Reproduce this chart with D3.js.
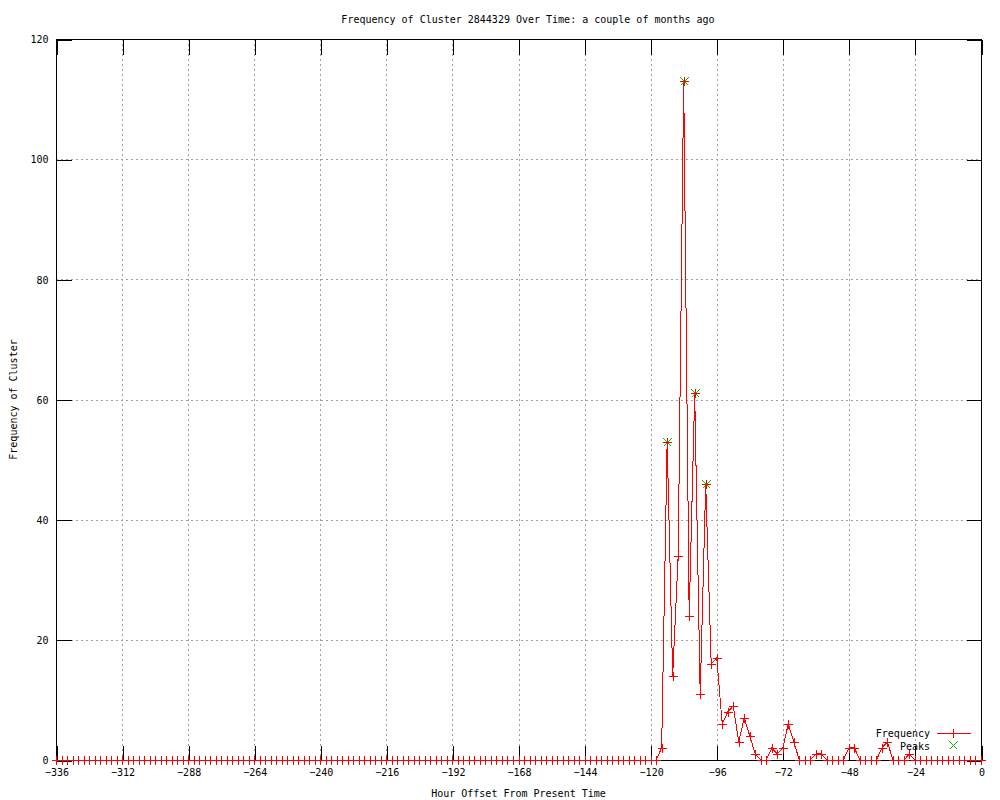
<!DOCTYPE html>
<html>
<head>
<meta charset="utf-8">
<script src="https://cdn.jsdelivr.net/npm/d3@7"></script>
<style>
  html, body { margin: 0; padding: 0; background: #fff; }
  svg { display: block; }
  text { font-family: "DejaVu Sans Mono", "Liberation Mono", monospace; font-size: 10px; fill: #000; }
</style>
</head>
<body>
<svg id="chart" width="1000" height="800"></svg>
<script>
// ---- data ----
const titleText = "Frequency of Cluster 2844329 Over Time: a couple of months ago";
const xLabel = "Hour Offset From Present Time";
const yLabel = "Frequency of Cluster";
const xTicks = [-336, -312, -288, -264, -240, -216, -192, -168, -144, -120, -96, -72, -48, -24, 0];
const yTicks = [0, 20, 40, 60, 80, 100, 120];
// hour offsets, every 2 hours from -336 to 0
const hours = d3.range(-336, 1, 2);
// frequency at each hour offset (169 values)
const frequency = [
  0,0,0,0,0,0,0,0,0,0,
  0,0,0,0,0,0,0,0,0,0,
  0,0,0,0,0,0,0,0,0,0,
  0,0,0,0,0,0,0,0,0,0,
  0,0,0,0,0,0,0,0,0,0,
  0,0,0,0,0,0,0,0,0,0,
  0,0,0,0,0,0,0,0,0,0,
  0,0,0,0,0,0,0,0,0,0,
  0,0,0,0,0,0,0,0,0,0,
  0,0,0,0,0,0,0,0,0,0,
  0,0,0,0,0,0,0,0,0,0,          // -336 .. -118
  2,53,14,34,113,24,61,11,46,16, // -116 .. -98
  17,6,8,9,3,7,4,1,0,0,         // -96 .. -78
  2,1,2,6,3,0,0,0,1,1,          // -76 .. -58
  0,0,0,0,2,2,0,0,0,0,          // -56 .. -38
  2,3,0,0,0,1,0,0,0,0,          // -36 .. -18
  0,0,0,0,0,0,0,0,0             // -16 .. 0
];
const peakHours = [-114, -108, -104, -100];
const peakValues = [53, 113, 61, 46];

// ---- layout ----
const svg = d3.select("#chart");
const L = 56, R = 981, T = 39, B = 760;
const x = d3.scaleLinear().domain([-336, 0]).range([L, R]);
const y = d3.scaleLinear().domain([0, 120]).range([B, T]);
const px = v => Math.round(v) + 0.5;
const tickLen = 15;

svg.append("rect").attr("width", 1000).attr("height", 800).attr("fill", "#fff");

// grid
const grid = svg.append("g").attr("stroke", "#a0a0a0").attr("stroke-dasharray", "2,3")
  .attr("shape-rendering", "crispEdges").attr("stroke-width", 1);
xTicks.slice(1, -1).forEach(t => {
  grid.append("line").attr("x1", px(x(t))).attr("x2", px(x(t))).attr("y1", T).attr("y2", B);
});
yTicks.slice(1, -1).forEach(t => {
  grid.append("line").attr("x1", L).attr("x2", R).attr("y1", px(y(t))).attr("y2", px(y(t)));
});

// axes (D3 axes, styled like gnuplot inward ticks)
const xAxisB = d3.axisBottom(x).tickValues(xTicks).tickSize(-tickLen).tickPadding(8).tickFormat(d3.format("d"));
const xAxisT = d3.axisTop(x).tickValues(xTicks).tickSize(-tickLen).tickFormat("");
const yAxisL = d3.axisLeft(y).tickValues(yTicks).tickSize(-tickLen).tickPadding(8).tickFormat(d3.format("d"));
const yAxisR = d3.axisRight(y).tickValues(yTicks).tickSize(-tickLen).tickFormat("");

function styleAxis(g) {
  g.select(".domain").remove();
  g.selectAll("line").attr("stroke", "#000").attr("shape-rendering", "crispEdges");
  g.selectAll("text").attr("font-family", "DejaVu Sans Mono, monospace").attr("font-size", 10).attr("fill", "#000");
}
svg.append("g").attr("transform", `translate(0.5,${B + 0.5})`).call(xAxisB).call(styleAxis);
svg.append("g").attr("transform", `translate(0.5,${T + 0.5})`).call(xAxisT).call(styleAxis);
svg.append("g").attr("transform", `translate(${L + 0.5},0.5)`).call(yAxisL).call(styleAxis);
svg.append("g").attr("transform", `translate(${R + 0.5},0.5)`).call(yAxisR).call(styleAxis);

// border
svg.append("rect").attr("x", L + 0.5).attr("y", T + 0.5).attr("width", R - L).attr("height", B - T)
  .attr("fill", "none").attr("stroke", "#000").attr("shape-rendering", "crispEdges");

// frequency line
const pts = hours.map((h, i) => [h, frequency[i]]);
const line = d3.line().x(d => x(d[0])).y(d => y(d[1]));
svg.append("path").datum(pts).attr("d", line).attr("fill", "none")
  .attr("stroke", "#ff0000").attr("stroke-width", 1).attr("shape-rendering", "crispEdges");

const ms = 4;
function plus(g, cx, cy, color) {
  cx = Math.round(cx); cy = Math.round(cy);
  g.append("rect").attr("x", cx - ms).attr("y", cy).attr("width", 2 * ms + 1).attr("height", 1).attr("fill", color);
  g.append("rect").attr("x", cx).attr("y", cy - ms).attr("width", 1).attr("height", 2 * ms + 1).attr("fill", color);
}
function cross(g, cx, cy, color) {
  cx = Math.round(cx) + 0.5; cy = Math.round(cy) + 0.5;
  g.append("path").attr("d", `M${cx - ms},${cy - ms}L${cx + ms},${cy + ms}M${cx - ms},${cy + ms}L${cx + ms},${cy - ms}`)
    .attr("stroke", color).attr("stroke-width", 1).attr("fill", "none").attr("shape-rendering", "crispEdges");
}
const peakG = svg.append("g");
peakHours.forEach((h, i) => cross(peakG, x(h), y(peakValues[i]), "#00c000"));
const markG = svg.append("g");
pts.forEach(d => plus(markG, x(d[0]), y(d[1]), "#ff0000"));

// legend
const leg = svg.append("g");
leg.append("text").attr("x", 930).attr("y", 733).attr("text-anchor", "end").attr("dy", "0.35em").text("Frequency");
leg.append("rect").attr("x", 937).attr("y", 733).attr("width", 34).attr("height", 1).attr("fill", "#ff0000");
plus(leg, 953, 733, "#ff0000");
leg.append("text").attr("x", 930).attr("y", 746).attr("text-anchor", "end").attr("dy", "0.35em").text("Peaks");
cross(leg, 953, 745, "#00c000");

// titles
svg.append("text").attr("x", 528).attr("y", 19).attr("text-anchor", "middle").attr("dy", "0.35em").text(titleText);
svg.append("text").attr("x", (L + R) / 2).attr("y", 793).attr("text-anchor", "middle").attr("dy", "0.35em").text(xLabel);
svg.append("text").attr("transform", `translate(13,${(T + B) / 2}) rotate(-90)`).attr("text-anchor", "middle")
  .attr("dy", "0.35em").text(yLabel);
</script>
</body>
</html>
